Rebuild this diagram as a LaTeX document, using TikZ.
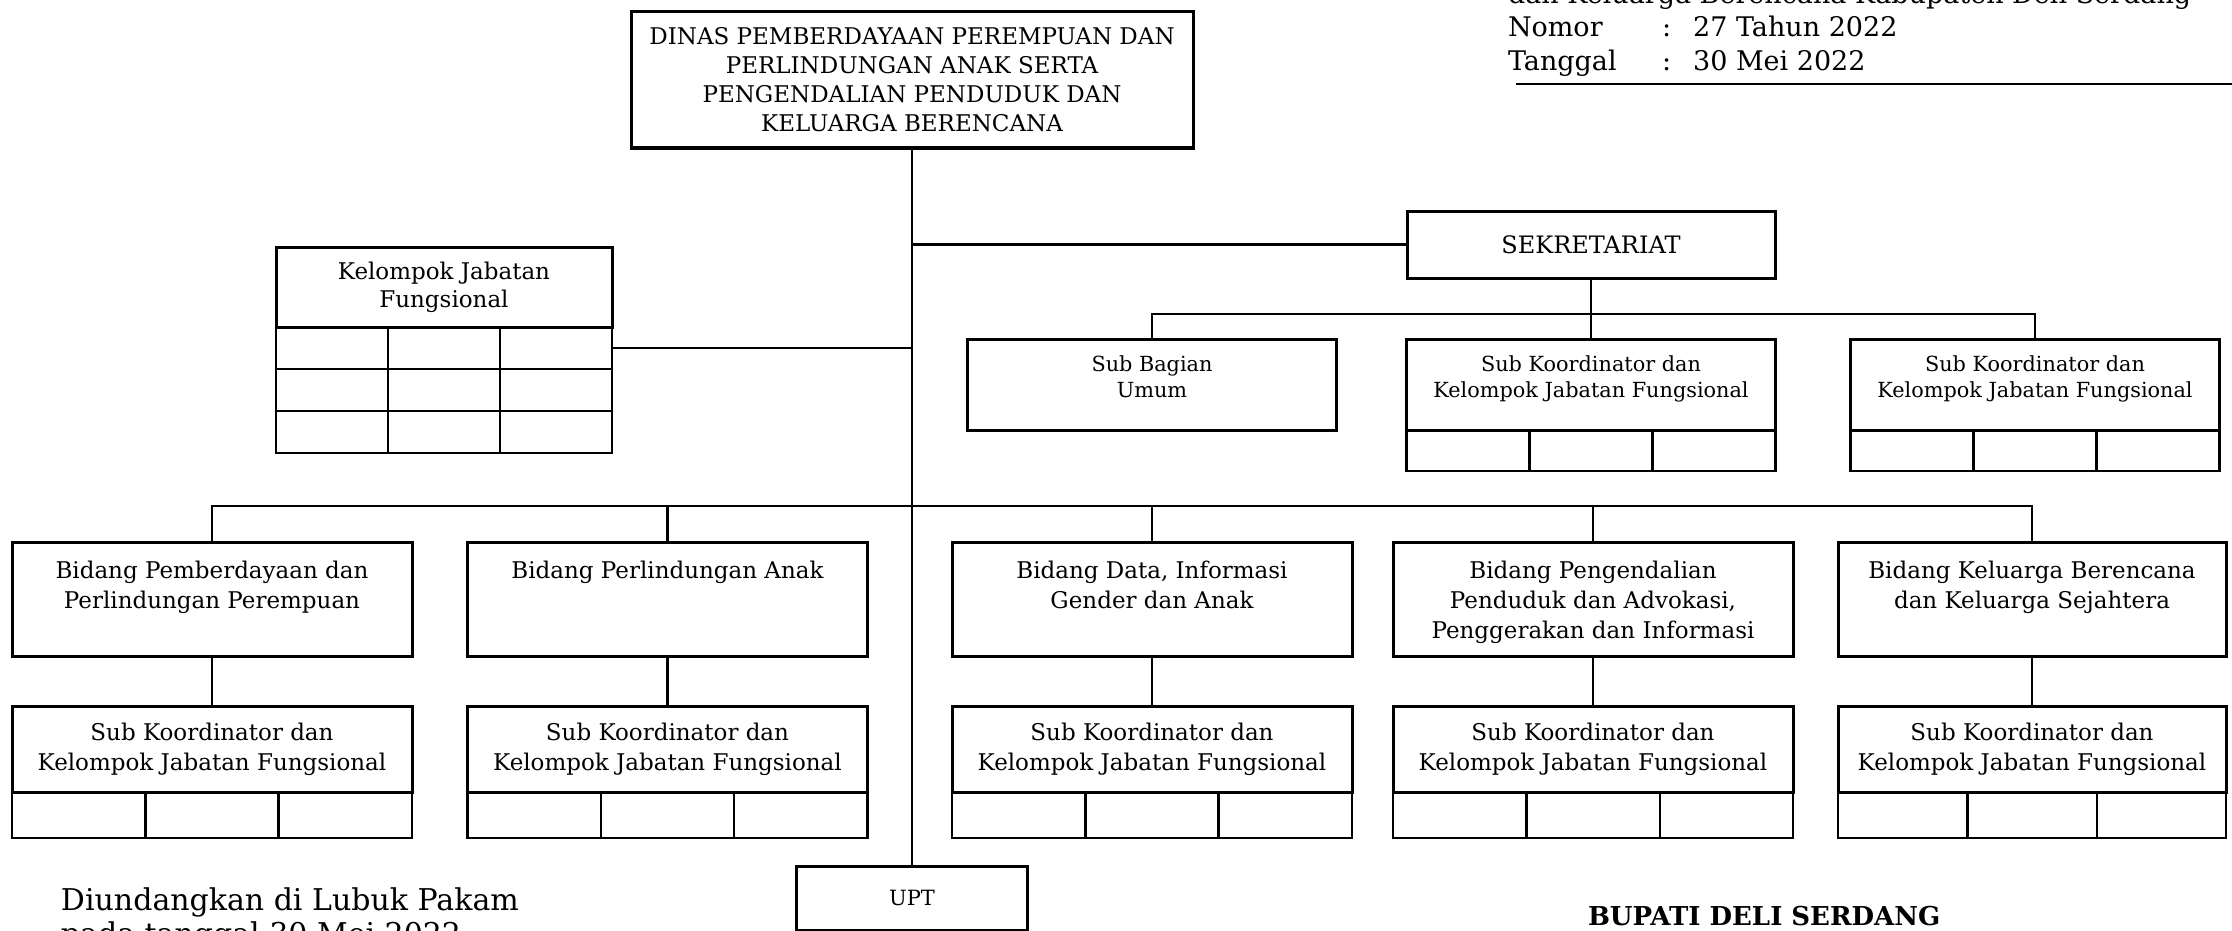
\documentclass[tikz,border=0pt]{standalone}
\usepackage{fontspec}
\setmainfont{DejaVu Serif}
\usetikzlibrary{positioning}

\begin{document}
\begin{tikzpicture}[x=0.5pt, y=-0.5pt,
    every node/.style={align=center, inner sep=0pt, outer sep=0pt},
    box/.style={draw, line width=1.5pt},
    cell/.style={draw, line width=1.2pt, minimum width=#1},
    conn/.style={line width=1.1pt},
    btxt/.style={font=\fontsize{11.5pt}{15pt}\selectfont},
    stxt/.style={font=\fontsize{10.4pt}{13pt}\selectfont},
    hdr/.style={anchor=base west, font=\fontsize{13.5pt}{16pt}\selectfont}]

    \useasboundingbox (0,0) rectangle (2232,931);
    \clip (0,0) rectangle (2232,931);

    % kepala dinas
    \node[box, minimum width=281pt, minimum height=68pt, font=\fontsize{11.5pt}{14.5pt}\selectfont] (dinas) at (912,80)
        {DINAS PEMBERDAYAAN PEREMPUAN DAN\\PERLINDUNGAN ANAK SERTA\\PENGENDALIAN PENDUDUK DAN\\KELUARGA BERENCANA};

    % sekretariat
    \node[box, minimum width=184pt, minimum height=33.5pt, font=\fontsize{12pt}{14pt}\selectfont] (sek) at (1591,244.5) {SEKRETARIAT};
    \node[box, minimum width=184.5pt, minimum height=45.5pt, below=30.5pt of sek] (sk2) {};
    \node[box, minimum width=184.5pt, minimum height=45.5pt, left=35pt of sk2] (sbu) {};
    \node[box, minimum width=184.5pt, minimum height=45.5pt, right=37.5pt of sk2] (sk3) {};
    \node[stxt, below=8.5pt of sbu.north] (sbut) {Sub Bagian\\Umum};
    \node[stxt, below=8.5pt of sk2.north] (sk2t) {Sub Koordinator dan\\Kelompok Jabatan Fungsional};
    \node[stxt, below=8.5pt of sk3.north] (sk3t) {Sub Koordinator dan\\Kelompok Jabatan Fungsional};
    \node[cell=61.5pt, minimum height=20.5pt, below right=0pt of sk2.south west] (sk2a) {};
    \node[cell=61.5pt, minimum height=20.5pt, right=0pt of sk2a] (sk2b) {};
    \node[cell=61.5pt, minimum height=20.5pt, right=0pt of sk2b] (sk2c) {};
    \node[cell=61.5pt, minimum height=20.5pt, below right=0pt of sk3.south west] (sk3a) {};
    \node[cell=61.5pt, minimum height=20.5pt, right=0pt of sk3a] (sk3b) {};
    \node[cell=61.5pt, minimum height=20.5pt, right=0pt of sk3b] (sk3c) {};

    % kelompok jabatan fungsional
    \node[box, minimum width=168pt, minimum height=40pt, font=\fontsize{11.5pt}{14pt}\selectfont] (kjf) at (444,287) {Kelompok Jabatan\\Fungsional};
    \node[cell=56pt, minimum height=21pt, below right=0pt of kjf.south west] (kjf1a) {};
    \node[cell=56pt, minimum height=21pt, right=0pt of kjf1a] (kjf1b) {};
    \node[cell=56pt, minimum height=21pt, right=0pt of kjf1b] (kjf1c) {};
    \node[cell=56pt, minimum height=21pt, below=0pt of kjf1a] (kjf2a) {};
    \node[cell=56pt, minimum height=21pt, right=0pt of kjf2a] (kjf2b) {};
    \node[cell=56pt, minimum height=21pt, right=0pt of kjf2b] (kjf2c) {};
    \node[cell=56pt, minimum height=21pt, below=0pt of kjf2a] (kjf3a) {};
    \node[cell=56pt, minimum height=21pt, right=0pt of kjf3a] (kjf3b) {};
    \node[cell=56pt, minimum height=21pt, right=0pt of kjf3b] (kjf3c) {};

    % bidang
    \node[box, minimum width=200pt, minimum height=57pt] (b1) at (212,599) {};
    \node[box, minimum width=200pt, minimum height=57pt] (b2) at (667.5,599) {};
    \node[box, minimum width=200pt, minimum height=57pt] (b3) at (1152,599) {};
    \node[box, minimum width=200pt, minimum height=57pt] (b4) at (1593,599) {};
    \node[box, minimum width=194pt, minimum height=57pt] (b5) at (2032,599) {};
    \node[btxt, below=9.5pt of b1.north] (b1t) {Bidang Pemberdayaan dan\\Perlindungan Perempuan};
    \node[btxt, below=9.5pt of b2.north] (b2t) {Bidang Perlindungan Anak};
    \node[btxt, below=9.5pt of b3.north] (b3t) {Bidang Data, Informasi\\Gender dan Anak};
    \node[btxt, below=9.5pt of b4.north] (b4t) {Bidang Pengendalian\\Penduduk dan Advokasi,\\Penggerakan dan Informasi};
    \node[btxt, below=9.5pt of b5.north] (b5t) {Bidang Keluarga Berencana\\dan Keluarga Sejahtera};

    % sub koordinator bidang
    \node[box, minimum width=200pt, minimum height=43pt, below=25pt of b1] (s1) {};
    \node[box, minimum width=200pt, minimum height=43pt, below=25pt of b2] (s2) {};
    \node[box, minimum width=200pt, minimum height=43pt, below=25pt of b3] (s3) {};
    \node[box, minimum width=200pt, minimum height=43pt, below=25pt of b4] (s4) {};
    \node[box, minimum width=194pt, minimum height=43pt, below=25pt of b5] (s5) {};
    \node[btxt, below=8.5pt of s1.north] (s1t) {Sub Koordinator dan\\Kelompok Jabatan Fungsional};
    \node[btxt, below=8.5pt of s2.north] (s2t) {Sub Koordinator dan\\Kelompok Jabatan Fungsional};
    \node[btxt, below=8.5pt of s3.north] (s3t) {Sub Koordinator dan\\Kelompok Jabatan Fungsional};
    \node[btxt, below=8.5pt of s4.north] (s4t) {Sub Koordinator dan\\Kelompok Jabatan Fungsional};
    \node[btxt, below=8.5pt of s5.north] (s5t) {Sub Koordinator dan\\Kelompok Jabatan Fungsional};
    \node[cell=66.67pt, minimum height=23pt, below right=0pt of s1.south west] (s1a) {};
    \node[cell=66.67pt, minimum height=23pt, right=0pt of s1a] (s1b) {};
    \node[cell=66.67pt, minimum height=23pt, right=0pt of s1b] (s1c) {};
    \node[cell=66.67pt, minimum height=23pt, below right=0pt of s2.south west] (s2a) {};
    \node[cell=66.67pt, minimum height=23pt, right=0pt of s2a] (s2b) {};
    \node[cell=66.67pt, minimum height=23pt, right=0pt of s2b] (s2c) {};
    \node[cell=66.67pt, minimum height=23pt, below right=0pt of s3.south west] (s3a) {};
    \node[cell=66.67pt, minimum height=23pt, right=0pt of s3a] (s3b) {};
    \node[cell=66.67pt, minimum height=23pt, right=0pt of s3b] (s3c) {};
    \node[cell=66.67pt, minimum height=23pt, below right=0pt of s4.south west] (s4a) {};
    \node[cell=66.67pt, minimum height=23pt, right=0pt of s4a] (s4b) {};
    \node[cell=66.67pt, minimum height=23pt, right=0pt of s4b] (s4c) {};
    \node[cell=64.67pt, minimum height=23pt, below right=0pt of s5.south west] (s5a) {};
    \node[cell=64.67pt, minimum height=23pt, right=0pt of s5a] (s5b) {};
    \node[cell=64.67pt, minimum height=23pt, right=0pt of s5b] (s5c) {};

    % upt
    \node[box, minimum width=115.5pt, minimum height=32pt, font=\fontsize{10.5pt}{12pt}\selectfont] (upt) at (912,898) {UPT};

    % garis
    \coordinate (bbus) at (912,506);
    \coordinate (sbus) at (1591,314);
    \draw[conn] (dinas.south) -- (upt.north);
    \draw[conn] (sek.west) -- (sek.west -| dinas.south);
    \draw[conn] (kjf1c.east) -- (kjf1c.east -| dinas.south);
    \draw[conn] (sek) -- (sk2);
    \draw[conn] (sbu.north) |- (sbus) -| (sk3.north);
    \draw[conn] (b1.north) |- (bbus) -| (b5.north);
    \draw[conn] (b2.north) -- (b2.north |- bbus);
    \draw[conn] (b3.north) -- (b3.north |- bbus);
    \draw[conn] (b4.north) -- (b4.north |- bbus);
    \draw[conn] (b1) -- (s1);
    \draw[conn] (b2) -- (s2);
    \draw[conn] (b3) -- (s3);
    \draw[conn] (b4) -- (s4);
    \draw[conn] (b5) -- (s5);

    % keterangan
    \node[hdr] (perbup) at (1508,4) {dan Keluarga Berencana Kabupaten Deli Serdang};
    \node[hdr] (nomor) at (1508,37) {Nomor};
    \node[hdr] (nomorisi) at (1662,37) {:\hspace{11pt}27 Tahun 2022};
    \node[hdr] (tgl) at (1508,70.5) {Tanggal};
    \node[hdr] (tglisi) at (1662,70.5) {:\hspace{11pt}30 Mei 2022};
    \draw[line width=1.1pt] (1516,84) -- (2232,84);

    \node[anchor=base west, font=\fontsize{15pt}{18pt}\selectfont] (diundang) at (61,910) {Diundangkan di Lubuk Pakam};
    \node[anchor=base west, font=\fontsize{15pt}{18pt}\selectfont] (diundangtgl) at (61,944) {pada tanggal 30 Mei 2022};
    \node[anchor=base west, font=\fontsize{13pt}{15pt}\selectfont\bfseries] (bupati) at (1588,925) {BUPATI DELI SERDANG};
\end{tikzpicture}
\end{document}
